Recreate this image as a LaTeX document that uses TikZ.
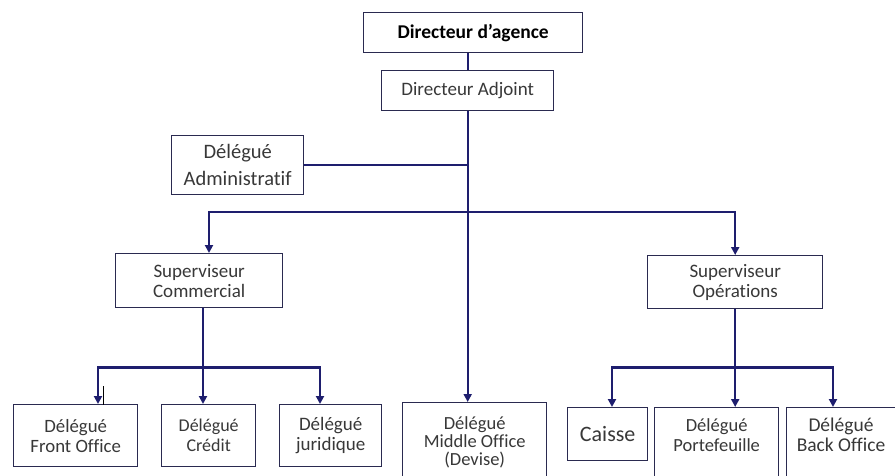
\documentclass[tikz,border=0pt]{standalone}
\usepackage{fontspec}
\setmainfont{Carlito}[Ligatures=NoCommon]
\usetikzlibrary{arrows.meta,calc}
\definecolor{navy}{HTML}{1E1E6E}
\definecolor{edge}{HTML}{2A2A50}
\definecolor{ink}{HTML}{383838}
\newcommand{\fs}[2]{\fontsize{#1}{#2}\selectfont}
\begin{document}
\begin{tikzpicture}[x=1pt,y=-1pt,
  box/.style={draw=edge,line width=1.4pt,fill=white,inner sep=0pt,align=center,
    text=ink,anchor=north west,font=\fs{19}{20}},
  txt/.style={inner sep=0pt,align=center,text=ink,font=\fs{19}{20}},
  link/.style={draw=navy,line width=2.2pt},
  arr/.style={link,-{Triangle[length=8pt,width=8pt]}}]
\useasboundingbox (0,0) rectangle (895,476);
\fill[white] (0,0) rectangle (895,476);
\begin{scope}
\clip (0,0) rectangle (895,476);
% upper levels
\node[box,minimum width=219pt,minimum height=40pt,text=black,
  font=\fs{19.5}{20}\bfseries] (dir) at (363,12) {Directeur d’agence};
\node[box,minimum width=172pt,minimum height=40pt] (adj) at (381,70) {Directeur Adjoint};
\node[box,minimum width=132pt,minimum height=59pt,
  font=\fs{20.5}{27}] (adm) at (171,135) {Délégué\\Administratif};
\node[box,minimum width=167pt,minimum height=54pt] (scom) at (115,253) {Superviseur\\Commercial};
\node[box,minimum width=175pt,minimum height=53pt] (sop) at (647,255) {Superviseur\\Opérations};
% bottom row, commercial side
\node[box,minimum width=124pt,minimum height=62pt,font=\fs{18.8}{20}] (fo) at (13,404) {Délégué\\Front Office};
\node[box,minimum width=94pt,minimum height=62pt,font=\fs{18}{20}] (cred) at (161,404) {Délégué\\Crédit};
\node[box,minimum width=102pt,minimum height=62pt,font=\fs{19}{20}] (jur) at (279,404) {Délégué\\juridique};
% middle office
\node[box,minimum width=144pt,minimum height=80pt,font=\fs{18.5}{18}] (mid) at (402,402) {Délégué\\Middle Office\\(Devise)};
% bottom row, operations side
\node[box,minimum width=80pt,minimum height=53pt,font=\fs{22}{20}] (cai) at (567,407) {Caisse};
\node[box,minimum width=124pt,minimum height=90pt] (port) at (654,407) {};
\node[txt,font=\fs{18.5}{20}] (portt) at ($(port.north)+(0,28)$) {Délégué\\Portefeuille};
\node[box,minimum width=124pt,minimum height=90pt] (bo) at (786,407) {};
\node[txt,font=\fs{19.5}{20}] (bot) at ($(bo.north west)+(55,28)$) {Délégué\\Back Office};
% connectors
\draw[link] (adj.north) -- (adj.north |- dir.south);
\draw[arr] (adj.south) -- (adj.south |- mid.north);
\draw[link] (adm.east) -- (adm.east -| adj.south);
\coordinate (tbar) at ($(adj.south)+(0,101)$);
\coordinate (scin) at ($(scom.north west)+(94,0)$);
\draw[arr] (tbar) -| (scin);
\draw[arr] (tbar) -| (sop.north);
% commercial branch
\coordinate (cdown) at ($(scom.south west)+(88,0)$);
\coordinate (cbar) at ($(cdown)+(0,59)$);
\coordinate (foin) at ($(fo.north west)+(85,0)$);
\coordinate (juin) at ($(jur.north west)+(41,0)$);
\draw[arr] (cdown) -- (cdown |- cred.north);
\draw[arr] (cbar) -| (foin);
\draw[arr] (cbar) -| (juin);
\draw[line width=1pt,black] ($(foin)+(5,-18)$) -- ++(0,19);
% operations branch
\draw[link] (sop.south) -- ++(0,58) coordinate (obar);
\coordinate (cain) at ($(cai.north west)+(45,0)$);
\coordinate (boin) at ($(bo.north west)+(47,0)$);
\draw[arr] (obar) -- (obar |- port.north);
\draw[arr] (obar) -| (cain);
\draw[arr] (obar) -| (boin);
\end{scope}
\end{tikzpicture}
\end{document}
